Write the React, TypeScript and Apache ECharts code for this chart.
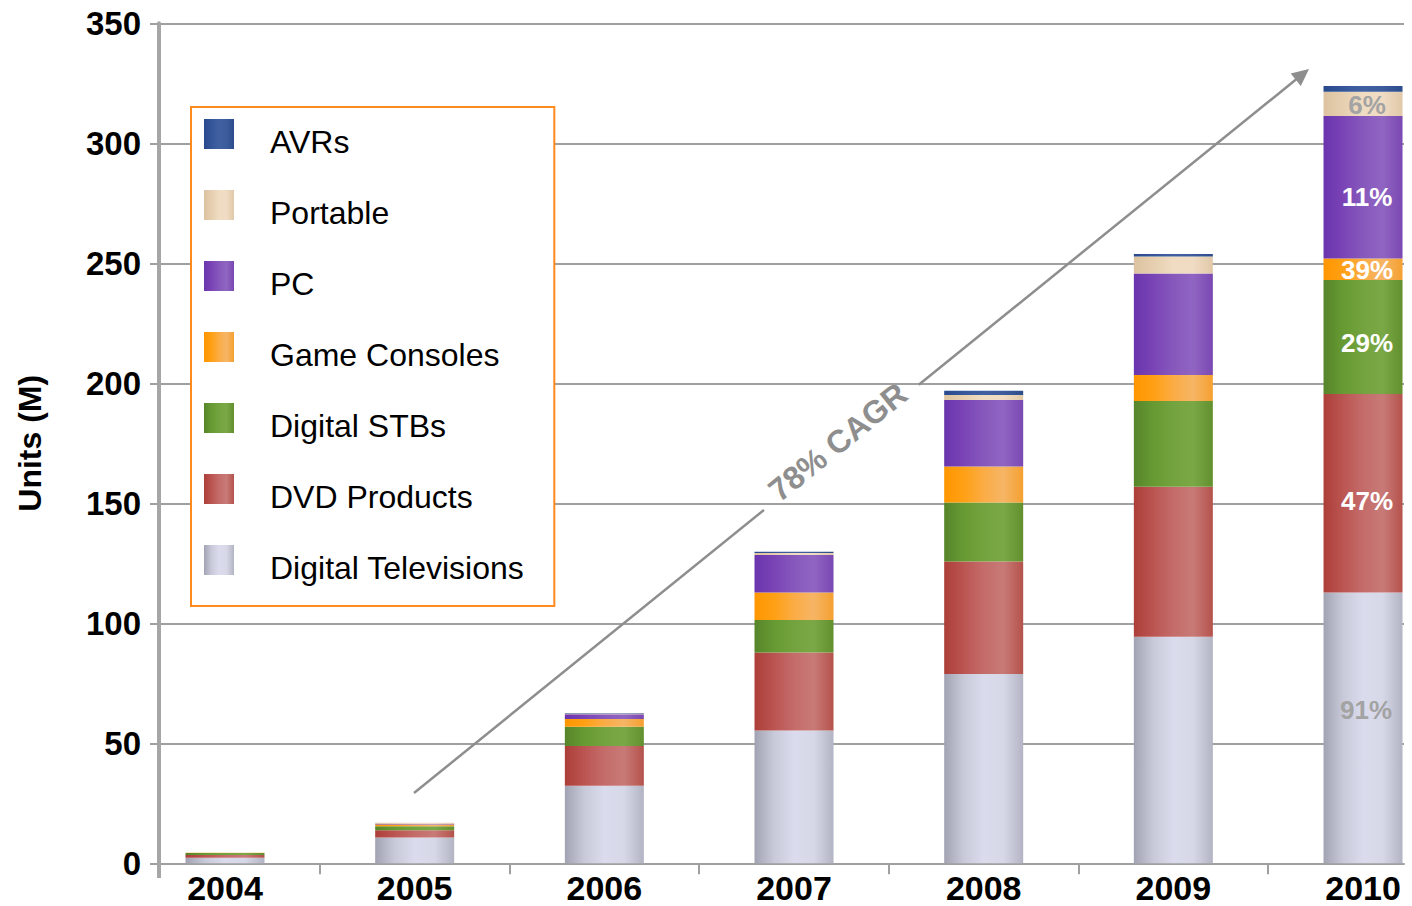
import React, { useEffect, useRef } from "react";
import * as echarts from "echarts";

const years = ["2004", "2005", "2006", "2007", "2008", "2009", "2010"];
const digitalTelevisions = [2.3, 10.8, 32.3, 55.3, 78.9, 94.4, 112.8];
const dvdProducts = [1.2, 3.0, 16.6, 32.5, 46.8, 62.5, 82.7];
const digitalSTBs = [0.8, 1.6, 8.0, 13.6, 24.6, 35.7, 47.5];
const gameConsoles = [0.1, 0.8, 3.2, 11.4, 15.0, 10.9, 9.0];
const pcs = [0.0, 0.3, 2.0, 15.7, 27.7, 42.3, 59.4];
const portables = [0.0, 0.4, 0.3, 0.8, 2.1, 7.0, 10.1];
const avrs = [0.0, 0.0, 0.2, 0.5, 1.8, 1.1, 2.4];
// 2010 share labels, bottom segment to top segment
const shares2010 = ["91%", "47%", "29%", "39%", "11%", "6%", ""];
const legendOrder = ["AVRs", "Portable", "PC", "Game Consoles", "Digital STBs", "DVD Products", "Digital Televisions"];
const yMin = 0;
const yMax = 350;
const yStep = 50;

const FONT = "'Liberation Sans', Arial, Helvetica, sans-serif";
const CANVAS_W = 1470;

function grad(stops: string[]) {
  const n = stops.length - 1;
  return new echarts.graphic.LinearGradient(
    0, 0, 1, 0,
    stops.map((c, i) => ({ offset: i / n, color: c }))
  );
}

export default function App() {
  const ref = useRef<HTMLDivElement>(null);

  useEffect(() => {
    if (!ref.current) return;
    const chart = echarts.init(ref.current, null, { renderer: "svg" });

    const seriesDefs = [
      { name: "Digital Televisions", data: digitalTelevisions, color: grad(["#a2a3b2", "#c8cada", "#dadced", "#d6d8e8", "#b3b4c3"]), labelColor: "#a3a3a3", offset: [3, -18] },
      { name: "DVD Products", data: dvdProducts, color: grad(["#ad3e38", "#bb5552", "#c46c6a", "#c87a77", "#b5524c"]), labelColor: "#ffffff", offset: [4, 8] },
      { name: "Digital STBs", data: digitalSTBs, color: grad(["#56852a", "#679a33", "#73a33e", "#7aa846", "#62902f"]), labelColor: "#ffffff", offset: [4, 6] },
      { name: "Game Consoles", data: gameConsoles, color: grad(["#ff9600", "#ffa015", "#fbac45", "#f6b565", "#f5a030"]), labelColor: "#ffffff", offset: [4, 1] },
      { name: "PC", data: pcs, color: grad(["#6a34ae", "#7a44b6", "#8658bc", "#9065c2", "#7a48b2"]), labelColor: "#ffffff", offset: [4, 10] },
      { name: "Portable", data: portables, color: grad(["#dcc2a0", "#e6cfb0", "#efdcc2", "#f0dcc4", "#e0c8a8"]), labelColor: "#a3a3a3", offset: [4, 1] },
      { name: "AVRs", data: avrs, color: grad(["#284a8c", "#35579a", "#4060a0", "#3c5c9c", "#2c4c8c"]), labelColor: "#ffffff", offset: [0, 0] },
    ];

    const series = seriesDefs.map((s, si) => ({
      name: s.name,
      type: "bar",
      stack: "total",
      xAxisIndex: 1,
      yAxisIndex: 1,
      barWidth: 79,
      itemStyle: { color: s.color },
      emphasis: { disabled: true },
      data: s.data.map((v, i) => {
        if (i === years.length - 1 && shares2010[si]) {
          return {
            value: v,
            label: {
              show: true,
              position: "inside",
              formatter: shares2010[si],
              color: s.labelColor,
              fontSize: 26,
              fontWeight: "bold",
              fontFamily: FONT,
              offset: s.offset,
            },
          };
        }
        return v;
      }),
    }));

    // CAGR arrow geometry (annotation)
    const S = [414, 793];
    const E = [1309, 69];
    const dx = E[0] - S[0];
    const dy = E[1] - S[1];
    const L = Math.sqrt(dx * dx + dy * dy);
    const u = [dx / L, dy / L];
    const nrm = [-u[1], u[0]];
    const at = (t: number) => [S[0] + dx * t, S[1] + dy * t];
    const p1 = at(0.391);
    const p2 = at(0.564);
    const lineEnd = [E[0] - u[0] * 14, E[1] - u[1] * 14];
    const back = [E[0] - u[0] * 17, E[1] - u[1] * 17];
    const headA = [back[0] + nrm[0] * 8, back[1] + nrm[1] * 8];
    const headB = [back[0] - nrm[0] * 8, back[1] - nrm[1] * 8];
    const angle = Math.atan2(-dy, dx);
    const tc = at(0.478);
    const textCenter = [tc[0] - 4, tc[1] - 5];
    const arrowColor = "#8e8e8e";

    const bandLeft = 130.17;
    const bandWidth = 189.67;

    chart.setOption({
      animation: false,
      backgroundColor: "#ffffff",
      grid: [
        { left: 159, right: CANVAS_W - 1404, top: 23.3, bottom: 42.7, containLabel: false },
        { left: bandLeft, width: bandWidth * years.length, top: 23.3, bottom: 42.7, containLabel: false },
      ],
      legend: {
        orient: "vertical",
        left: 191,
        top: 107,
        itemWidth: 30,
        itemHeight: 30,
        itemGap: 23,
        icon: "rect",
        backgroundColor: "#ffffff",
        borderColor: "#ff8a1e",
        borderWidth: 2,
        padding: [3, 30, 22, 13],
        selectedMode: false,
        data: legendOrder,
        formatter: (name: string) => `{t|${name}}`,
        textStyle: {
          fontSize: 32,
          fontFamily: FONT,
          color: "#000000",
          rich: {
            t: {
              fontSize: 32,
              fontFamily: FONT,
              color: "#000000",
              lineHeight: 34,
              padding: [16, 0, 0, 31],
            },
          },
        },
      },
      xAxis: [
        {
          type: "value",
          gridIndex: 0,
          min: -0.348,
          max: 6.216,
          splitLine: { show: false },
          axisLine: { show: true, onZero: false, lineStyle: { color: "#a0a0a0", width: 2 } },
          axisTick: {
            show: true,
            customValues: [0.5, 1.5, 2.5, 3.5, 4.5, 5.5],
            length: 11,
            lineStyle: { color: "#a0a0a0", width: 2 },
          },
          axisLabel: {
            customValues: [0, 1, 2, 3, 4, 5, 6],
            formatter: (v: number) => years[Math.round(v)] ?? "",
            fontSize: 34,
            fontWeight: "bold",
            fontFamily: FONT,
            color: "#000000",
            margin: 8,
          },
        },
        {
          type: "category",
          gridIndex: 1,
          data: years,
          show: false,
        },
      ],
      yAxis: [
        {
          type: "value",
          gridIndex: 0,
          min: yMin,
          max: yMax,
          interval: yStep,
          name: "Units (M)",
          nameLocation: "middle",
          nameGap: 113,
          nameTextStyle: { fontSize: 32, fontWeight: "bold", fontFamily: FONT, color: "#000000" },
          axisLine: { show: true, onZero: false, lineStyle: { color: "#a6a6a6", width: 4 } },
          axisTick: { show: true, length: 9, lineStyle: { color: "#a0a0a0", width: 2 } },
          axisLabel: {
            fontSize: 33,
            fontWeight: "bold",
            fontFamily: FONT,
            color: "#000000",
            margin: 18,
          },
          splitLine: { show: true, lineStyle: { color: "#a0a0a0", width: 2 } },
        },
        {
          type: "value",
          gridIndex: 1,
          min: yMin,
          max: yMax,
          interval: yStep,
          show: false,
          splitLine: { show: false },
        },
      ],
      graphic: [
        {
          type: "line",
          silent: true,
          z: 10,
          shape: { x1: 159, y1: 862, x2: 159, y2: 878 },
          style: { stroke: "#a6a6a6", lineWidth: 4 },
        },
        {
          type: "line",
          silent: true,
          z: 10,
          shape: { x1: S[0], y1: S[1], x2: p1[0], y2: p1[1] },
          style: { stroke: arrowColor, lineWidth: 2.5 },
        },
        {
          type: "line",
          silent: true,
          z: 10,
          shape: { x1: p2[0], y1: p2[1], x2: lineEnd[0], y2: lineEnd[1] },
          style: { stroke: arrowColor, lineWidth: 2.5 },
        },
        {
          type: "polygon",
          silent: true,
          z: 10,
          shape: { points: [E, headA, headB] },
          style: { fill: arrowColor },
        },
        {
          type: "text",
          silent: true,
          z: 10,
          x: textCenter[0],
          y: textCenter[1],
          rotation: angle,
          style: {
            text: "78% CAGR",
            fontSize: 32,
            fontWeight: "bold",
            fontFamily: FONT,
            fill: "#8e8e8e",
            align: "center",
            verticalAlign: "middle",
          },
        },
      ],
      series,
    });

    return () => chart.dispose();
  }, []);

  return (
    <div style={{ position: "fixed", left: 0, top: 0, width: 1412, height: 906, overflow: "hidden", background: "#ffffff" }}>
      <div ref={ref} style={{ width: CANVAS_W, height: 906 }} />
    </div>
  );
}
